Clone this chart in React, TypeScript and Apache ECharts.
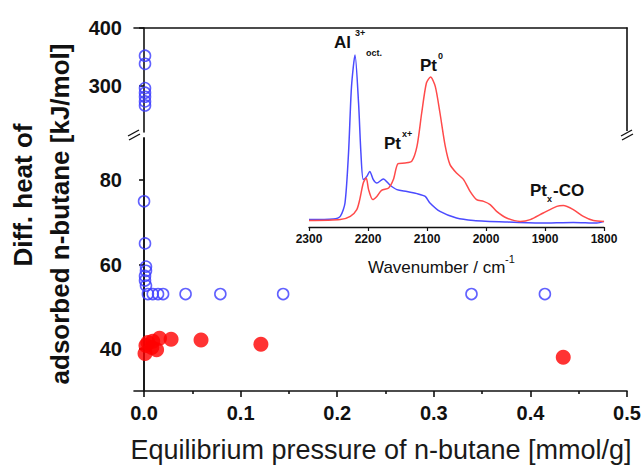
import React, { useEffect, useRef } from "react";
import * as echarts from "echarts";

// Main plot data: [pressure mmol/g, diff. heat kJ/mol]
const blueHigh: number[][] = [
  [0.001, 352], [0.001, 338], [0.001, 296], [0.001, 288], [0.001, 281], [0.001, 273], [0.001, 266],
];
const blueLow: number[][] = [
  [0.0, 75], [0.001, 65], [0.002, 59.5], [0.002, 58.5], [0.001, 57.3], [0.001, 56.2], [0.002, 55],
  [0.004, 53], [0.009, 53], [0.0145, 53], [0.0197, 53], [0.043, 53], [0.079, 53], [0.144, 53],
  [0.339, 53], [0.415, 53],
];
const redLow: number[][] = [
  [0.001, 38.9], [0.002, 40.8], [0.004, 41.5], [0.008, 40.3], [0.009, 41.8], [0.013, 39.8],
  [0.016, 42.5], [0.028, 42.3], [0.059, 42.1], [0.121, 41.1], [0.434, 38.0],
];
const xMajor = [0, 0.1, 0.2, 0.3, 0.4, 0.5];
const xMinor = [0.05, 0.15, 0.25, 0.35, 0.45];
const yLowTicks = [40, 60, 80];
const yHighTicks = [300, 400];

// Inset IR spectra: [wavenumber cm-1, absorbance a.u.]
const irBlue: number[][] = [
  [2300, 0.037], [2259, 0.04], [2247, 0.053], [2239, 0.12], [2233, 0.37], [2228, 0.7], [2222, 0.86],
  [2216, 0.62], [2212, 0.37], [2208, 0.237], [2202, 0.253], [2197, 0.278], [2191, 0.237], [2185, 0.22],
  [2174, 0.24], [2163, 0.21], [2151, 0.187], [2134, 0.178], [2117, 0.167], [2103, 0.153], [2095, 0.12],
  [2078, 0.078], [2050, 0.045], [2021, 0.033], [1965, 0.025], [1908, 0.02], [1852, 0.023], [1812, 0.02],
  [1800, 0.028],
];
const irRed: number[][] = [
  [2300, 0.032], [2247, 0.037], [2230, 0.053], [2219, 0.087], [2214, 0.137], [2208, 0.22], [2203, 0.245],
  [2199, 0.187], [2192, 0.137], [2185, 0.153], [2177, 0.183], [2165, 0.195], [2157, 0.237], [2149, 0.317],
  [2137, 0.32], [2126, 0.328], [2117, 0.403], [2109, 0.57], [2101, 0.72], [2094, 0.75], [2086, 0.703],
  [2078, 0.57], [2069, 0.403], [2061, 0.312], [2050, 0.27], [2038, 0.237], [2027, 0.178], [2016, 0.137],
  [2004, 0.128], [1993, 0.112], [1982, 0.078], [1965, 0.045], [1942, 0.028], [1925, 0.037], [1903, 0.07],
  [1880, 0.103], [1869, 0.107], [1852, 0.087], [1835, 0.053], [1818, 0.032], [1800, 0.028],
];

const FONT = "'Liberation Sans', Arial, sans-serif";
const INK = "#111";

export default function App() {
  const ref = useRef<HTMLDivElement>(null);
  useEffect(() => {
    document.body.style.margin = "0";
    if (!ref.current) return;
    const chart = echarts.init(ref.current, undefined, { renderer: "svg" });
    const lineStyle = { color: INK, width: 1.6 };
    const xMin = -0.0104;
    const lbl = { color: INK, fontFamily: FONT, fontWeight: "bold" as const, fontSize: 20 };
    const breakMark = (x: number, y: number) => [
      { type: "rect", shape: { x: x - 4, y: y - 4, width: 8, height: 8 }, style: { fill: "#fff" }, z: 100 },
      { type: "line", shape: { x1: x - 6, y1: y + 1, x2: x + 5, y2: y - 5 }, style: { stroke: INK, lineWidth: 1.4 }, z: 101 },
      { type: "line", shape: { x1: x - 5, y1: y + 5, x2: x + 6, y2: y - 1 }, style: { stroke: INK, lineWidth: 1.4 }, z: 101 },
    ];
    const txt = (x: number, y: number, text: string, size: number, weight: string, extra: any = {}) => ({
      type: "text",
      x,
      y,
      z: 110,
      style: { text, fill: INK, font: `${weight} ${size}px ${FONT}`, align: "left", verticalAlign: "middle", ...extra },
    });
    chart.setOption({
      animation: false,
      backgroundColor: "#fff",
      grid: [
        { left: 134, right: 17, top: 138, height: 253 },
        { left: 134, right: 17, top: 28, height: 104 },
        { left: 309, right: 40, top: 27, height: 200 },
      ],
      xAxis: [
        {
          gridIndex: 0, type: "value", min: xMin, max: 0.5, position: "bottom",
          axisLine: { show: true, lineStyle },
          axisTick: { show: true, customValues: xMajor, length: 6, lineStyle },
          axisLabel: { customValues: xMajor, formatter: (v: number) => v.toFixed(1), margin: 12, ...lbl },
          splitLine: { show: false },
        },
        {
          gridIndex: 0, type: "value", min: xMin, max: 0.5, position: "bottom",
          axisLine: { show: false },
          axisTick: { show: true, customValues: xMinor, length: 3, lineStyle },
          axisLabel: { show: false },
          splitLine: { show: false },
        },
        {
          gridIndex: 1, type: "value", min: xMin, max: 0.5, position: "top",
          axisLine: { show: true, lineStyle },
          axisTick: { show: false }, axisLabel: { show: false }, splitLine: { show: false },
        },
        {
          gridIndex: 2, type: "value", min: 1800, max: 2300, interval: 100, inverse: true,
          axisLine: { show: true, lineStyle: { color: INK, width: 1.4 } },
          axisTick: { show: true, length: 4, lineStyle: { color: INK, width: 1.2 } },
          axisLabel: {
            color: INK, fontFamily: FONT, fontWeight: "bold", fontSize: 12, margin: 6,
            formatter: (v: number) => String(v),
          },
          splitLine: { show: false },
        },
      ],
      yAxis: [
        {
          gridIndex: 0, type: "value", min: 30, max: 90, position: "left",
          axisLine: { show: true, lineStyle },
          axisTick: { show: true, customValues: yLowTicks, length: 5, lineStyle },
          axisLabel: { customValues: yLowTicks, margin: 12, ...lbl },
          splitLine: { show: false },
        },
        {
          gridIndex: 0, type: "value", min: 30, max: 90, position: "right",
          axisLine: { show: true, lineStyle },
          axisTick: { show: false }, axisLabel: { show: false }, splitLine: { show: false },
        },
        {
          gridIndex: 1, type: "value", min: 220, max: 400, position: "left",
          axisLine: { show: true, lineStyle },
          axisTick: { show: true, customValues: yHighTicks, length: 5, lineStyle },
          axisLabel: { customValues: yHighTicks, margin: 12, ...lbl },
          splitLine: { show: false },
        },
        {
          gridIndex: 1, type: "value", min: 220, max: 400, position: "right",
          axisLine: { show: true, lineStyle },
          axisTick: { show: false }, axisLabel: { show: false }, splitLine: { show: false },
        },
        { gridIndex: 2, type: "value", min: 0, max: 1, show: false },
      ],
      series: [
        {
          type: "scatter", xAxisIndex: 0, yAxisIndex: 0, data: blueLow, symbol: "circle", symbolSize: 11,
          itemStyle: { color: "rgba(0,0,0,0)", borderColor: "#3a3aff", borderWidth: 1.6 },
        },
        {
          type: "scatter", xAxisIndex: 2, yAxisIndex: 2, data: blueHigh, symbol: "circle", symbolSize: 11,
          itemStyle: { color: "rgba(0,0,0,0)", borderColor: "#3a3aff", borderWidth: 1.6 },
        },
        {
          type: "scatter", xAxisIndex: 0, yAxisIndex: 0, data: redLow, symbol: "circle", symbolSize: 15,
          itemStyle: { color: "#ff0000" },
        },
        {
          type: "line", xAxisIndex: 3, yAxisIndex: 4, data: irBlue, showSymbol: false, smooth: 0.25,
          lineStyle: { color: "#4b4bff", width: 1.5 },
        },
        {
          type: "line", xAxisIndex: 3, yAxisIndex: 4, data: irRed, showSymbol: false, smooth: 0.25,
          lineStyle: { color: "#ff4a4a", width: 1.5 },
        },
      ],
      graphic: [
        ...breakMark(134, 135),
        ...breakMark(627, 135),
        {
          type: "text", x: 23, y: 195, rotation: Math.PI / 2, z: 110,
          style: { text: "Diff. heat of", fill: INK, font: `bold 26px ${FONT}`, align: "center", verticalAlign: "middle" },
        },
        {
          type: "text", x: 60, y: 214, rotation: Math.PI / 2, z: 110,
          style: { text: "adsorbed n-butane [kJ/mol]", fill: INK, font: `bold 26px ${FONT}`, align: "center", verticalAlign: "middle" },
        },
        {
          type: "text", x: 381, y: 450, z: 110,
          style: { text: "Equilibrium pressure of n-butane [mmol/g]", fill: "#1a1a1a", font: `normal 27px ${FONT}`, align: "center", verticalAlign: "middle" },
        },
        txt(368, 267, "Wavenumber / cm", 17, "normal"),
        txt(505, 259, "-1", 11, "normal"),
        txt(334, 42, "Al", 17, "bold"),
        txt(355, 33, "3+", 9, "bold"),
        txt(366, 53, "oct.", 9, "bold"),
        txt(420, 65, "Pt", 17, "bold"),
        txt(438, 56, "0", 9, "bold"),
        txt(384, 143, "Pt", 17, "bold"),
        txt(402, 134, "x+", 9, "bold"),
        txt(530, 190, "Pt", 17, "bold"),
        txt(547, 199, "x", 9, "bold"),
        txt(553, 190, "-CO", 17, "bold"),
      ],
    });
    return () => chart.dispose();
  }, []);
  return <div ref={ref} style={{ width: 644, height: 466 }} />;
}
